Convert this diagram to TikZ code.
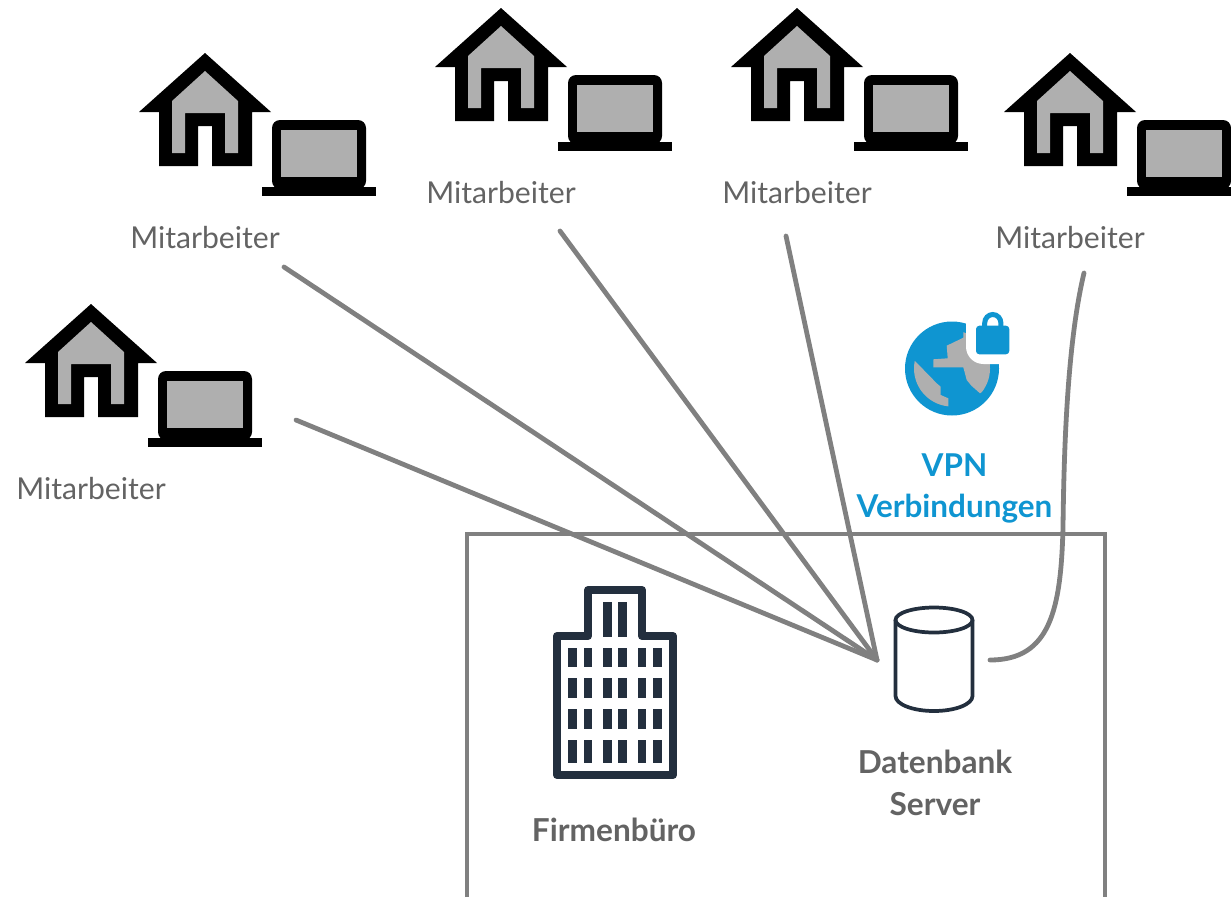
\documentclass[tikz,border=0pt]{standalone}
\usepackage{fontspec}
\setmainfont{Lato}
\definecolor{vpnblue}{HTML}{0F95D1}
\definecolor{iconnavy}{HTML}{232F3E}
\definecolor{linegray}{HTML}{808080}
\definecolor{fillgray}{HTML}{AFAFAF}
\definecolor{textgray}{HTML}{636363}
\tikzset{
  staff label/.style={text=textgray,font=\fontsize{22.6}{27}\selectfont},
  bold label/.style={text=textgray,font=\fontsize{23.7}{31.5}\bfseries\selectfont,align=center},
  vpn label/.style={text=vpnblue,font=\fontsize{23.6}{30.5}\bfseries\selectfont,align=center},
  link/.style={draw=linegray,line width=3.6pt,line cap=round},
  homeoffice/.pic={
    \fill (0,0) -- (66,59) -- (47,59) -- (47,113) -- (7,113) -- (7,73) -- (-7,73) -- (-7,113) -- (-46,113) -- (-46,59) -- (-66,59) -- cycle;
    \fill[fillgray] (0,18) -- (33,48) -- (33,100) -- (20,100) -- (20,60) -- (-20,60) -- (-20,100) -- (-33,100) -- (-33,48) -- cycle;
    \fill[rounded corners=6pt] (67,67) rectangle (161,136);
    \fill[fillgray] (76,77) rectangle (152,124);
    \fill (57,134) rectangle (171,143);
  }
}
\begin{document}
\begin{tikzpicture}[x=0.75pt,y=-0.75pt]
  \useasboundingbox (0,0) rectangle (1231,897);

  % home offices
  \pic at (205,53) {homeoffice};
  \pic at (501,8) {homeoffice};
  \pic at (797,8) {homeoffice};
  \pic at (1070,53) {homeoffice};
  \pic at (91,304) {homeoffice};

  \node[staff label] (staff1) at (205,238) {Mitarbeiter};
  \node[staff label] (staff2) at (501,193) {Mitarbeiter};
  \node[staff label] (staff3) at (797,193) {Mitarbeiter};
  \node[staff label] (staff4) at (1070,238) {Mitarbeiter};
  \node[staff label] (staff5) at (91,489) {Mitarbeiter};

  % office frame, open at the bottom
  \draw[linegray,line width=3.2pt] (467,897) -- (467,534) -- (1105,534) -- (1105,897);

  % globe with lock
  \fill[vpnblue] (952,368.5) circle [radius=47];
  \begin{scope}
    \clip (952,368.5) circle [radius=38];
    \fill[fillgray] (963.3,325) -- (963.3,337.7) -- (946.7,345.7) -- (947.7,358.3) -- (933.3,359.3) -- (933.3,367.3) -- (963.3,367.3) -- (966.7,380) -- (971.7,386) -- (980,393.3) -- (1000,380) -- (1000,325) -- cycle;
    \fill[fillgray] (914,360) -- (936.7,383.3) -- (940.7,386.7) -- (940.7,395) -- (948.3,398.3) -- (948.3,415) -- (905,415) -- (905,360) -- cycle;
  \end{scope}
  \fill[white,rounded corners=13pt] (966,300) -- (966,364) -- (1020,364) -- (1020,300) -- cycle;
  \fill[vpnblue,rounded corners=2.5pt] (976,325.7) rectangle (1009.3,354.3);
  \draw[vpnblue,line width=3.75pt] (984.7,328) -- (984.7,323) arc [start angle=180,end angle=360,x radius=8.1,y radius=8.5] -- (1000.9,328);
  \node[vpn label] (vpn) at (954.5,488.5) {VPN\\Verbindungen};

  % office building
  \draw[iconnavy,line width=6pt,line join=round] (557,636) -- (588,636) -- (588,590) -- (642,590) -- (642,636) -- (673,636) -- (673,775) -- (557,775) -- cycle;
  \foreach \wx in {568.3,584,603.3,618.3,637.7,653.3}
    \foreach \wy/\wh in {647.7/667.3,678.3/698.3,709.3/729,740/763.3}
      \fill[iconnavy] (\wx,\wy) rectangle (\wx+8.4,\wh);
  \foreach \wx in {603.3,618.3}
    \fill[iconnavy] (\wx,601.7) rectangle (\wx+8.4,636.7);
  \node[bold label] (office) at (614,830) {Firmenbüro};

  % database
  \draw[iconnavy,line width=2.8pt] (934,620) ellipse [x radius=38.5,y radius=12.5];
  \draw[iconnavy,line width=2.8pt] (895.5,620) -- (895.5,696) arc [start angle=180,end angle=0,x radius=38.5,y radius=15] -- (972.5,620);
  \node[bold label] (db) at (935,783) {Datenbank\\Server};

  % connectors
  \coordinate (hub) at (877,660);
  \coordinate (dbport) at (990,660);
  \coordinate (end1) at (284,267);
  \coordinate (end2) at (560,231);
  \coordinate (end3) at (786,236);
  \coordinate (end4) at (1084,273);
  \coordinate (end5) at (296,420);

  \path[link]
    (end1) edge (hub)
    (end2) edge (hub)
    (end3) edge (hub)
    (end5) edge (hub);
  \draw[link] (end4) .. controls (1068,340) and (1064,440) .. (1063,527) .. controls (1061,610) and (1050,660) .. (dbport);
\end{tikzpicture}
\end{document}
